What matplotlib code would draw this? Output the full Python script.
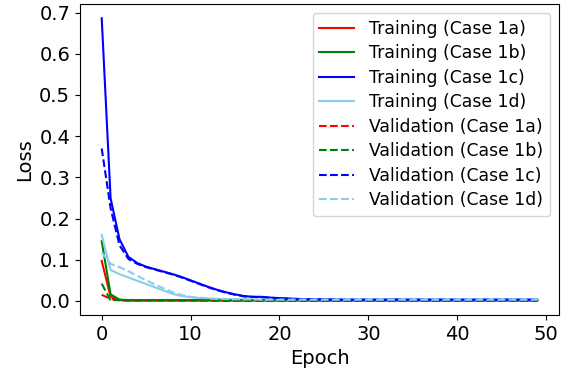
import numpy as np
import matplotlib
matplotlib.use('Agg')
import matplotlib.pyplot as plt

epochs = np.arange(50)

# training losses
train_1a = [0.097, 0.010, 0.002, 0.001, 0.001, 0.001, 0.001, 0.001, 0.001, 0.001,
            0.001, 0.001, 0.001, 0.001, 0.001, 0.001, 0.001, 0.001, 0.001, 0.001,
            0.001, 0.001, 0.001, 0.001, 0.001, 0.001, 0.001, 0.001, 0.001, 0.001,
            0.001, 0.001, 0.001, 0.001, 0.001, 0.001, 0.001, 0.001, 0.001, 0.001,
            0.001, 0.001, 0.001, 0.001, 0.001, 0.001, 0.001, 0.001, 0.001, 0.001]
train_1b = [0.145, 0.016, 0.003, 0.002, 0.002, 0.002, 0.002, 0.002, 0.002, 0.002,
            0.002, 0.002, 0.002, 0.002, 0.002, 0.002, 0.002, 0.002, 0.002, 0.002,
            0.002, 0.002, 0.002, 0.002, 0.002, 0.002, 0.002, 0.002, 0.002, 0.002,
            0.002, 0.002, 0.002, 0.002, 0.002, 0.002, 0.002, 0.002, 0.002, 0.002,
            0.002, 0.002, 0.002, 0.002, 0.002, 0.002, 0.002, 0.002, 0.002, 0.002]
train_1c = [0.686, 0.249, 0.150, 0.107, 0.092, 0.083, 0.077, 0.071, 0.065, 0.058,
            0.050, 0.042, 0.034, 0.027, 0.021, 0.016, 0.012, 0.010, 0.010, 0.008,
            0.007, 0.006, 0.005, 0.004, 0.004, 0.004, 0.004, 0.003, 0.003, 0.003,
            0.003, 0.003, 0.003, 0.004, 0.003, 0.003, 0.003, 0.003, 0.003, 0.003,
            0.003, 0.003, 0.003, 0.003, 0.003, 0.003, 0.003, 0.003, 0.003, 0.003]
train_1d = [0.160, 0.075, 0.065, 0.057, 0.049, 0.041, 0.033, 0.025, 0.017, 0.012,
            0.009, 0.007, 0.006, 0.005, 0.004, 0.004, 0.004, 0.003, 0.003, 0.003,
            0.003, 0.003, 0.003, 0.003, 0.003, 0.003, 0.003, 0.003, 0.003, 0.003,
            0.003, 0.003, 0.003, 0.003, 0.003, 0.003, 0.003, 0.003, 0.003, 0.003,
            0.003, 0.003, 0.003, 0.003, 0.003, 0.003, 0.003, 0.003, 0.003, 0.003]

# validation losses
val_1a = [0.015, 0.005, 0.001, 0.001, 0.001, 0.001, 0.001, 0.001, 0.001, 0.001,
          0.001, 0.001, 0.001, 0.000, 0.000, 0.000, 0.000, 0.000, 0.000, 0.000,
          0.000, 0.000, 0.000, 0.000, 0.000, 0.000, 0.000, 0.000, 0.000, 0.000,
          0.000, 0.000, 0.000, 0.000, 0.000, 0.000, 0.000, 0.000, 0.000, 0.000,
          0.000, 0.000, 0.000, 0.000, 0.000, 0.000, 0.000, 0.000, 0.000, 0.000]
val_1b = [0.042, 0.001, 0.003, 0.002, 0.002, 0.002, 0.002, 0.002, 0.002, 0.002,
          0.002, 0.002, 0.002, 0.002, 0.002, 0.002, 0.002, 0.002, 0.002, 0.002,
          0.002, 0.002, 0.002, 0.002, 0.002, 0.002, 0.002, 0.002, 0.002, 0.002,
          0.002, 0.002, 0.002, 0.002, 0.002, 0.002, 0.002, 0.002, 0.002, 0.002,
          0.002, 0.002, 0.002, 0.002, 0.002, 0.002, 0.002, 0.002, 0.002, 0.002]
val_1c = [0.370, 0.225, 0.135, 0.102, 0.090, 0.082, 0.076, 0.070, 0.064, 0.057,
          0.049, 0.041, 0.033, 0.026, 0.020, 0.015, 0.011, 0.010, 0.009, 0.008,
          0.006, 0.005, 0.004, 0.004, 0.004, 0.003, 0.003, 0.003, 0.003, 0.003,
          0.003, 0.003, 0.003, 0.003, 0.003, 0.003, 0.003, 0.003, 0.003, 0.003,
          0.003, 0.003, 0.003, 0.003, 0.003, 0.003, 0.003, 0.003, 0.003, 0.003]
val_1d = [0.118, 0.090, 0.082, 0.072, 0.061, 0.050, 0.040, 0.030, 0.021, 0.014,
          0.010, 0.008, 0.006, 0.005, 0.005, 0.004, 0.004, 0.004, 0.003, 0.003,
          0.003, 0.003, 0.003, 0.003, 0.003, 0.003, 0.003, 0.003, 0.003, 0.003,
          0.003, 0.003, 0.003, 0.003, 0.003, 0.003, 0.003, 0.003, 0.003, 0.003,
          0.003, 0.003, 0.003, 0.003, 0.003, 0.003, 0.003, 0.003, 0.003, 0.003]

cases = ['1a', '1b', '1c', '1d']
colors = ['red', 'green', 'blue', 'skyblue']
train = [train_1a, train_1b, train_1c, train_1d]
val = [val_1a, val_1b, val_1c, val_1d]

fig = plt.figure(figsize=(5.71, 3.76), dpi=100)
ax = fig.add_axes([0.140, 0.162, 0.839, 0.827])

for c, col, y in zip(cases, colors, train):
    ax.plot(epochs, y, color=col, linestyle='-', label='Training (Case %s)' % c)
for c, col, y in zip(cases, colors, val):
    ax.plot(epochs, y, color=col, linestyle='--', label='Validation (Case %s)' % c)

ax.set_xlabel('Epoch', fontsize=14)
ax.set_ylabel('Loss', fontsize=14)
ax.tick_params(labelsize=14)
ax.set_xticks([0, 10, 20, 30, 40, 50])
ax.set_yticks(np.arange(0, 0.71, 0.1))
ax.legend(fontsize=12.4, loc='upper right', labelspacing=0.38, handletextpad=0.9)

fig.savefig('out.png', dpi=100)
